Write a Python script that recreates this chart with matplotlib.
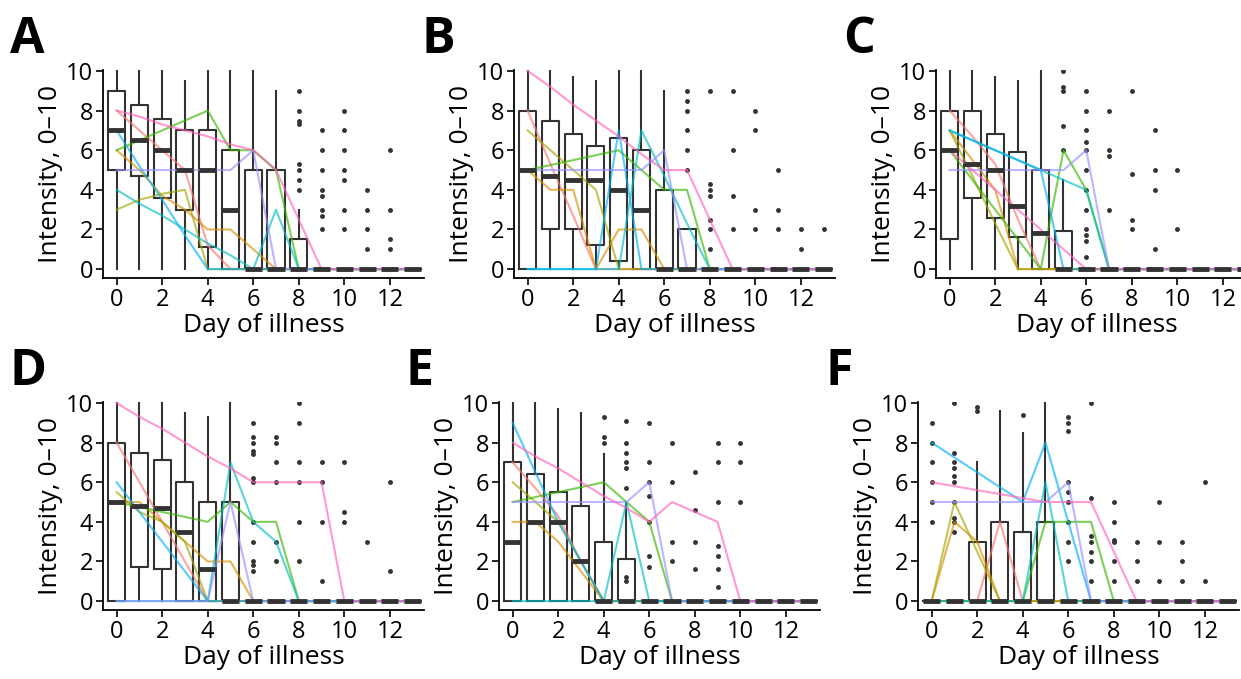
import numpy as np
import matplotlib.pyplot as plt

days = list(range(14))

# box stats per day: (whisker low, q1, median, q3, whisker high)
boxes = {
    'A': [(0, 5, 7, 9, 10), (0, 4.7, 6.5, 8.3, 10), (0, 3.6, 6, 7.6, 10), (0, 3, 5, 7, 9.5),
          (0, 1.1, 5, 7, 10), (0, 0, 3, 6, 10), (0, 0, 0, 5, 10), (0, 0, 0, 5, 9), (0, 0, 0, 1.5, 3)],
    'B': [(0, 0, 5, 8, 10), (0, 2, 4.7, 7.5, 10), (0, 2, 4.5, 6.8, 9.7), (0, 1.2, 4.5, 6.2, 9.5),
          (0, 0.4, 4, 6.6, 10), (0, 0, 3, 6, 10), (0, 0, 0, 4, 9), (0, 0, 0, 2, 2)],
    'C': [(0, 1.5, 6, 8, 10), (0, 3.6, 5.3, 8, 10), (0, 2.6, 5, 6.8, 9.7), (0, 1.6, 3.2, 5.9, 9.5),
          (0, 0, 1.8, 5, 10), (0, 0, 0, 1.9, 4.5)],
    'D': [(0, 0, 5, 8, 10), (0, 1.7, 4.8, 7.5, 10), (0, 1.6, 4.7, 7.1, 10), (0, 0, 3.5, 6, 9.5),
          (0, 0, 1.6, 5, 9.3), (0, 0, 0, 5, 10)],
    'E': [(0, 0, 3, 7, 10), (0, 0, 4, 6.4, 10), (0, 0, 4, 5.5, 9.7), (0, 0, 2, 4.8, 9.5),
          (0, 0, 0, 3, 7.4), (0, 0, 0, 2.1, 5)],
    'F': [(0, 0, 0, 0, 0), (0, 0, 0, 0, 0), (0, 0, 0, 3, 7), (0, 0, 0, 4, 9.6),
          (0, 0, 0, 3.5, 8.5), (0, 0, 0, 4, 10)],
}

fliers = {
    'A': {8: [4, 4.5, 5, 5.3, 7.3, 7.5, 8, 9], 9: [2, 2.7, 3, 3.7, 4, 5, 6, 7],
          10: [2, 3, 4.5, 5, 6, 7, 8], 11: [1, 2, 3, 4], 12: [1, 1.5, 3, 6]},
    'B': {7: [5, 6, 7, 8, 8.5, 9], 8: [1, 2, 2.5, 3.7, 4, 4.3, 9], 9: [2, 3.7, 6, 9],
          10: [2, 3, 7, 8], 11: [2, 3, 5], 12: [1, 2], 13: [2]},
    'C': {5: [6, 7.2, 9, 9.2, 10], 6: [0.6, 1.4, 1.7, 2, 3, 4, 5, 6, 6.4, 7, 8, 9],
          7: [3, 5.7, 6, 8], 8: [2, 2.5, 4.8, 9], 9: [1, 4, 5, 7], 10: [2, 5]},
    'D': {6: [1.5, 1.8, 2, 3, 4, 6, 6.2, 7.4, 7.6, 8, 8.3, 9], 7: [2, 3, 6, 7, 8, 8.3],
          8: [2, 4, 6, 7, 9, 10], 9: [1, 4, 6, 7], 10: [4, 4.5, 7], 11: [3], 12: [1.5, 6]},
    'E': {4: [8, 8.3, 9.3], 5: [1, 1.2, 5.7, 6.7, 7, 7.5, 8, 9.1], 6: [1.7, 2.3, 4, 5.3, 6, 7, 9],
          7: [2, 3, 6, 8], 8: [1.6, 3, 4.6, 6.5], 9: [0.7, 1.6, 2.3, 2.8, 5, 7, 8], 10: [5, 7, 8]},
    'F': {0: [4, 5, 6, 7, 8, 9], 1: [3.5, 4, 4.2, 5, 6, 6.3, 6.7, 7, 7.5, 10], 2: [9.6, 9.8],
          4: [9.4], 6: [2, 3, 4, 5, 5.5, 6, 8.6, 9, 9.3], 7: [1, 2, 2.5, 3, 3.3, 5.2, 10],
          8: [1, 2, 3, 3.1, 4, 5], 9: [1, 2, 3], 10: [1, 3, 5], 11: [1, 2, 3], 12: [1, 6]},
}

colors = ['#F8766D', '#D89000', '#A3A500', '#39B600', '#00BFC4', '#00B0F6', '#9590FF', '#FF62BC']

# individual patient trajectories, in colour order (red, orange, olive, green, cyan, blue, purple, pink)
lines = {
    'A': [[8, 7, 6, 5, 1.2, 0], [6, 5, 3.7, 3, 2, 2, 1, 0], [3, 3.5, 3.8, 4, 0],
          [6, 6.5, 7, 7.5, 8, 6, 6, 5, 0], [4, 3.3, 2.7, 2, 1.3, 0.7, 0, 3, 0],
          [7, 5.2, 3.5, 1.7, 0], [5, 5, 5, 5, 5, 5, 6, 0], [8, 7.7, 7.3, 7, 6.7, 6.3, 6, 5, 2.5, 0]],
    'B': [[8, 5.3, 2.7, 0], [5, 4, 4, 0, 2, 2, 0], [7, 6, 5, 4, 0],
          [5, 5.25, 5.5, 5.75, 6, 5, 4, 4, 0], [0, 0, 0, 0, 0, 7, 4.7, 2.3, 0],
          [0, 0, 0, 0, 7, 0], [5, 5, 5, 5, 5, 5, 6, 0], [10, 9.2, 8.3, 7.5, 6.7, 5.8, 5, 5, 2.5, 0]],
    'C': [[8, 6.7, 5.3, 2.5, 0], [7, 5.5, 4, 0], [7, 4.7, 2.3, 0],
          [6, 4.5, 3, 1.5, 0, 6, 4, 0], [7, 6.5, 6, 5.5, 5, 4.5, 4, 0],
          [7, 6.5, 6, 5.5, 5, 0], [5, 5, 5, 5, 5, 5, 6, 0], [6, 5, 4, 3, 2, 1, 0]],
    'D': [[8, 6, 4, 2, 0], [5, 5, 4, 3, 2, 2, 0], [5.5, 4.5, 4, 3, 0],
          [5, 4.75, 4.5, 4.25, 4, 5, 4, 4, 0], [0, 0, 0, 0, 0, 7, 4, 3, 0],
          [6, 4.5, 3, 1.5, 0], [0, 0, 0, 0, 0, 5, 0], [10, 9.3, 8.7, 8, 7.3, 6.7, 6, 6, 6, 6, 0]],
    'E': [[7, 5.7, 4.3, 2, 0], [4, 4, 3, 1.5, 0], [6, 5, 4, 2, 0],
          [5, 5.25, 5.5, 5.75, 6, 5, 4, 0], [0, 0, 0, 0, 0, 5, 0],
          [9, 6.5, 4, 2, 0], [5, 5, 5, 5, 5, 5, 6, 0], [8, 7.3, 6.7, 6, 5.3, 4.7, 4, 5, 4.5, 4, 0]],
    'F': [[0, 0, 0, 4, 0], [0, 4, 3, 0], [0, 5, 2.5, 0],
          [0, 0, 0, 0, 0, 4, 4, 4, 0], [0, 0, 0, 0, 0, 6, 0],
          [8, 7.25, 6.5, 5.75, 5, 8, 4, 0], [5, 5, 5, 5, 5, 5, 6, 0], [6, 5.8, 5.6, 5.4, 5.2, 5, 5, 5, 2.5, 0]],
}

plt.rcParams['font.family'] = ['Open Sans', 'DejaVu Sans']
fig = plt.figure(figsize=(12.41, 6.79), dpi=100)

lefts = {'A': 103, 'B': 514, 'C': 936, 'D': 103, 'E': 499, 'F': 918}
W, H = 1241, 679
width = 321 / W
for name in 'ABCDEF':
    top_row = name in 'ABC'
    bottom = 1 - (278 if top_row else 610) / H
    ax = fig.add_axes([lefts[name] / W, bottom, width, 208 / H])
    stats = []
    for d in days:
        b = boxes[name][d] if d < len(boxes[name]) else (0, 0, 0, 0, 0)
        stats.append(dict(whislo=b[0], q1=b[1], med=b[2], q3=b[3], whishi=b[4],
                          fliers=fliers[name].get(d, [])))
    ax.bxp(stats, positions=days, widths=0.75, showcaps=False, patch_artist=False,
           boxprops=dict(color='#333333', lw=1.5),
           whiskerprops=dict(color='#333333', lw=1.5),
           medianprops=dict(color='#333333', lw=3.5),
           flierprops=dict(marker='o', markersize=2.5, markerfacecolor='#333333',
                           markeredgecolor='#333333'))
    for c, vals in zip(colors, lines[name]):
        ys = vals + [0] * (14 - len(vals))
        ax.plot(days, ys, color=c, lw=1.5, alpha=0.65)
    ax.set_xlim(-0.6, 13.5)
    ax.set_ylim(-0.45, 10.05)
    ax.set_xticks(range(0, 13, 2))
    ax.set_xticklabels([str(t) for t in range(0, 13, 2)])
    ax.set_yticks(range(0, 11, 2))
    ax.tick_params(labelsize=17, width=1.2, length=5, pad=2)
    for s in ['top', 'right']:
        ax.spines[s].set_visible(False)
    for s in ['left', 'bottom']:
        ax.spines[s].set_linewidth(1.3)
    ax.set_xlabel('Day of illness', fontsize=19, labelpad=1)
    ax.set_ylabel('Intensity, 0–10', fontsize=19, labelpad=2)
    fig.text((lefts[name] - 93) / W, 1 - (40 if top_row else 372) / H, name,
             fontsize=36, fontweight='bold', va='center')

fig.savefig('out.png', dpi=100)
